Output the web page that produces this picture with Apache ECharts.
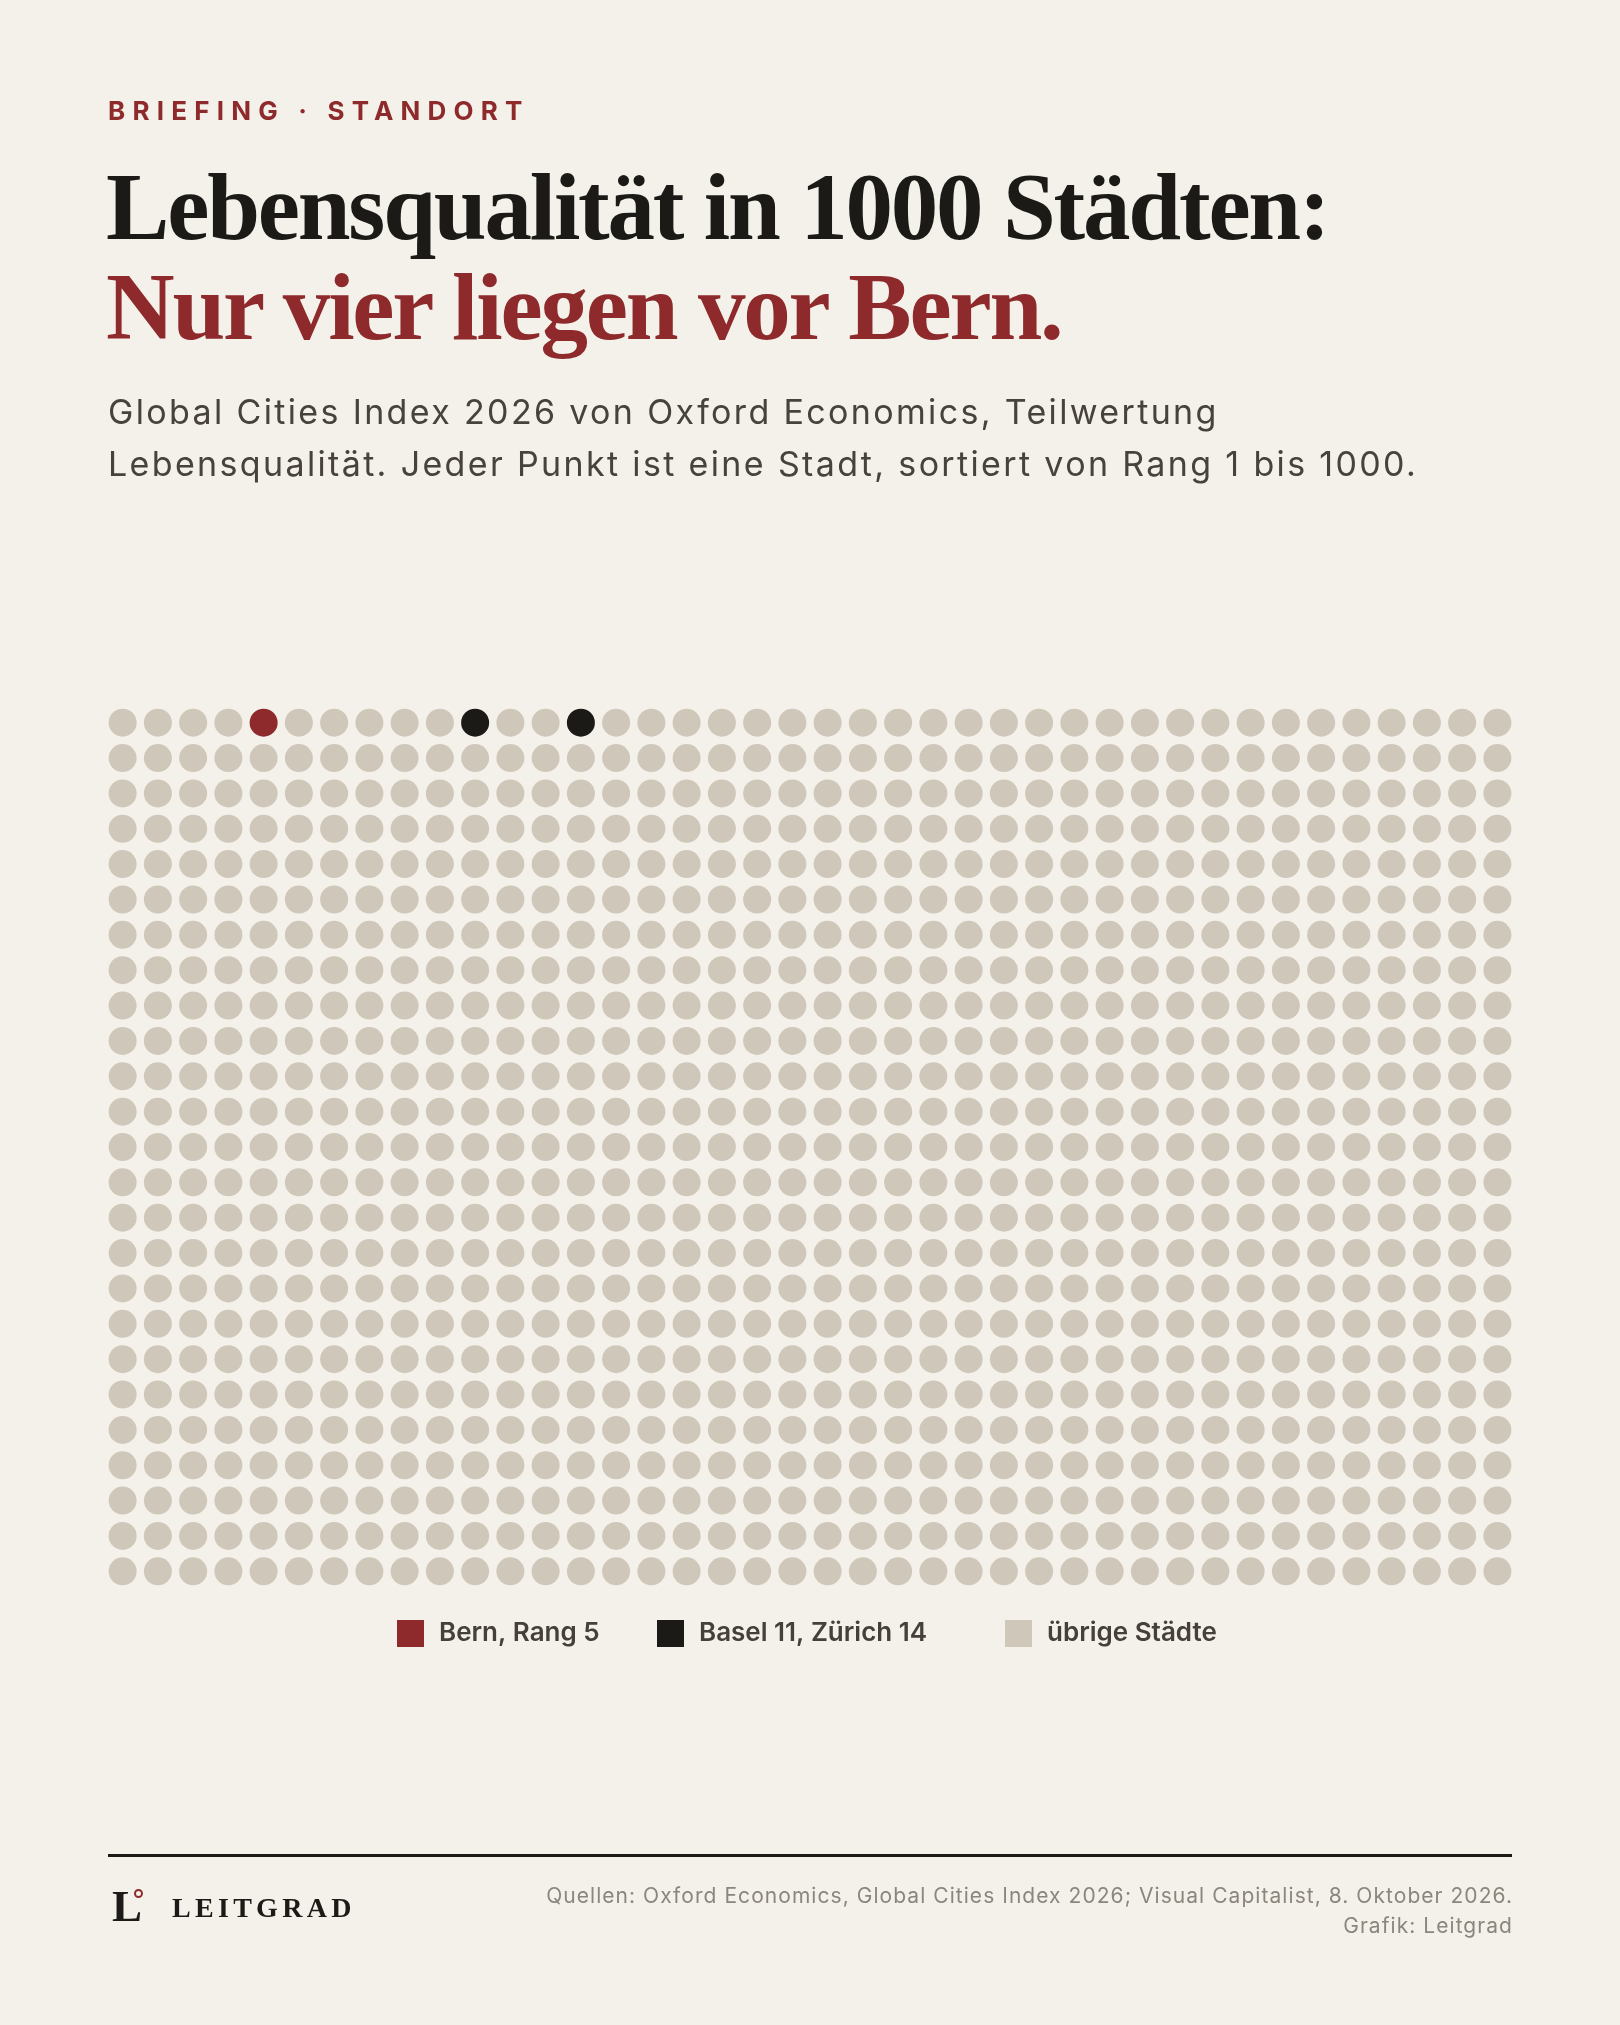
<!DOCTYPE html>
<html>
<head>
<meta charset="utf-8">
<script src="https://cdn.jsdelivr.net/npm/echarts@6/dist/echarts.min.js"></script>
<style>
	html, body { margin: 0; padding: 0; background: #f4f1ea; }
	#page { position: relative; width: 1620px; height: 2025px; overflow: hidden; background: #f4f1ea; }
	#chart { position: absolute; left: 0; top: 0; width: 1620px; height: 2025px; }
	.txt { position: absolute; white-space: nowrap; margin: 0; }
	.kicker { left: 108px; top: 97.5px; font: 700 26px/1 Inter, sans-serif; letter-spacing: 7.2px; color: #8e2a2b; }
	.title { left: 106px; font: 700 95px/1 "Liberation Serif", serif; letter-spacing: -2.2px; }
	.sub { left: 108px; top: 386px; font: 400 34px/52px Inter, sans-serif; letter-spacing: 2.35px; color: #47423c; }
	.rule { position: absolute; left: 108px; top: 1854px; width: 1404px; height: 3px; background: #1b1a16; }
	.logoL { left: 112px; top: 1884px; font: 700 45px/1 "Liberation Serif", serif; color: #1b1a16; }
	.ring { position: absolute; left: 134px; top: 1889px; width: 5px; height: 5px; border: 2px solid #8e2a2b; border-radius: 50%; }
	.logoT { left: 172px; top: 1893.5px; font: 700 28px/1 "Liberation Serif", serif; letter-spacing: 4.3px; color: #1b1a16; }
	.src { right: 107px; top: 1881px; font: 400 21px/30px Inter, sans-serif; letter-spacing: 1.05px; color: #8b867d; text-align: right; }
</style>
</head>
<body>
<div id="page">
	<div id="chart"></div>
	<div class="txt kicker">BRIEFING · STANDORT</div>
	<div class="txt title" style="top:160.4px;color:#1b1a16;">Lebensqualität in 1000 Städten:</div>
	<div class="txt title" style="top:260.4px;color:#8e2a2b;">Nur vier liegen vor Bern.</div>
	<div class="txt sub">Global Cities Index 2026 von Oxford Economics, Teilwertung<br>Lebensqualität. Jeder Punkt ist eine Stadt, sortiert von Rang 1 bis 1000.</div>
	<div class="rule"></div>
	<div class="txt logoL">L</div>
	<div class="ring"></div>
	<div class="txt logoT">LEITGRAD</div>
	<div class="txt src">Quellen: Oxford Economics, Global Cities Index 2026; Visual Capitalist, 8. Oktober 2026.<br>Grafik: Leitgrad</div>
</div>
<script>
	// Daten
	var cityCount = 1000;
	var gridCols = 40;
	var bernRanks = [5];
	var swissRanks = [11, 14];
	var legendNames = ['Bern, Rang 5', 'Basel 11, Zürich 14', 'übrige Städte'];
	var colors = ['#8e2a2b', '#1b1a16', '#cfc7ba'];

	function cell(rank) {
		return [(rank - 1) % gridCols, Math.floor((rank - 1) / gridCols)];
	}

	var bern = [], swiss = [], rest = [];
	for (var r = 1; r <= cityCount; r++) {
		if (bernRanks.indexOf(r) >= 0) bern.push(cell(r));
		else if (swissRanks.indexOf(r) >= 0) swiss.push(cell(r));
		else rest.push(cell(r));
	}
	var rows = Math.ceil(cityCount / gridCols);

	// Legende: ein Eintrag pro Block, Positionen wie im Original
	var legendLeft = [397, 657, 1005];
	var legends = legendNames.map(function (name, i) {
		return {
			data: [name],
			left: legendLeft[i],
			top: 1620,
			icon: 'rect',
			itemWidth: 27,
			itemHeight: 27,
			textStyle: {
				fontFamily: 'Inter',
				fontSize: 26,
				fontWeight: 600,
				color: '#45403a',
				padding: [0, 0, 0, 10]
			},
			padding: 0
		};
	});

	var chart = echarts.init(document.getElementById('chart'));
	chart.setOption({
		backgroundColor: '#f4f1ea',
		animation: false,
		grid: { left: 105, right: 105, top: 705, bottom: 436 },
		xAxis: { type: 'value', min: -0.5, max: gridCols - 0.5, show: false },
		yAxis: { type: 'value', min: -0.5, max: rows - 0.5, inverse: true, show: false },
		legend: legends,
		series: [
			{ name: legendNames[2], type: 'scatter', data: rest, symbolSize: 28, itemStyle: { color: colors[2], opacity: 1 } },
			{ name: legendNames[1], type: 'scatter', data: swiss, symbolSize: 28, itemStyle: { color: colors[1], opacity: 1 } },
			{ name: legendNames[0], type: 'scatter', data: bern, symbolSize: 28, itemStyle: { color: colors[0], opacity: 1 } }
		]
	});
</script>
</body>
</html>
